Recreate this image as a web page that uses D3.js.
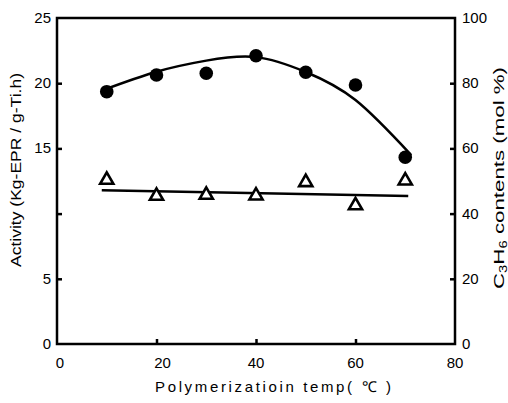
<!DOCTYPE html>
<html><head><meta charset="utf-8">
<script src="https://cdn.jsdelivr.net/npm/d3@7"></script>
<style>body{margin:0;background:#fff}svg{display:block}text{font-family:"Liberation Sans",Arial,sans-serif;fill:#000}</style>
</head><body><svg id="c" width="508" height="403"></svg>
<script>
const temps = [10, 20, 30, 40, 50, 60, 70];
const activity = [19.35, 20.63, 20.76, 22.1, 20.84, 19.86, 14.32];
const c3h6 = [50.3, 45.4, 45.7, 45.5, 49.6, 42.5, 50.1];
const fitActX = [9.3, 20, 30, 40, 50, 60, 71.2];
const fitActY = [19.48, 20.88, 21.73, 22.0, 20.86, 18.71, 14.49];
const fitC3X = [9.0, 70.6];
const fitC3Y = [47.2, 45.4];
const xTicks = [0, 20, 40, 60, 80];
const leftTicks = [0, 5, 10, 15, 20, 25];
const leftLabels = ["0", "5", "", "15", "20", "25"];
const rightTicks = [0, 20, 40, 60, 80, 100];

const svg = d3.select("#c");
const L = 57, R = 455, T = 18, B = 344;
const x = d3.scaleLinear().domain([0, 80]).range([L, R]);
const yL = d3.scaleLinear().domain([0, 25]).range([B, T]);
const yR = d3.scaleLinear().domain([0, 100]).range([B, T]);

svg.append("rect").attr("x", L).attr("y", T).attr("width", R - L).attr("height", B - T)
  .attr("fill", "none").attr("stroke", "#000").attr("stroke-width", 2.5);

const ax = svg.append("g").attr("transform", `translate(0,${B})`)
  .call(d3.axisTop(x).tickValues(xTicks.slice(1, -1)).tickSize(5).tickFormat(""));
const al = svg.append("g").attr("transform", `translate(${L},0)`)
  .call(d3.axisRight(yL).tickValues(leftTicks.slice(1, -1)).tickSize(5).tickFormat(""));
const ar = svg.append("g").attr("transform", `translate(${R},0)`)
  .call(d3.axisLeft(yR).tickValues(rightTicks.slice(1, -1)).tickSize(5).tickFormat(""));
[ax, al, ar].forEach(g => { g.select(".domain").remove(); g.selectAll("line").attr("stroke", "#000").attr("stroke-width", 2.5); });

svg.append("g").selectAll("text").data(xTicks).join("text")
  .attr("x", d => x(d) + (d === 0 ? 3 : d === 20 ? 6 : 0)).attr("y", 368)
  .attr("text-anchor", "middle").attr("font-size", 15).text(d => d);
svg.append("g").selectAll("text").data(leftTicks).join("text")
  .attr("x", 51).attr("y", d => yL(d) + 5).attr("text-anchor", "end").attr("font-size", 15)
  .text((d, i) => leftLabels[i]);
svg.append("g").selectAll("text").data(rightTicks).join("text")
  .attr("x", 462).attr("y", d => yR(d) + 5).attr("text-anchor", "start").attr("font-size", 15)
  .text(d => d);

svg.append("text").attr("transform", "translate(21,170) rotate(-90)")
  .attr("text-anchor", "middle").attr("font-size", 14)
  .attr("textLength", 194).attr("lengthAdjust", "spacingAndGlyphs")
  .text("Activity (Kg-EPR / g-Ti.h)");
const rt = svg.append("text").attr("transform", "translate(504,178) rotate(-90)")
  .attr("text-anchor", "middle").attr("font-size", 15)
  .attr("textLength", 222).attr("lengthAdjust", "spacingAndGlyphs");
rt.append("tspan").text("C");
rt.append("tspan").attr("font-size", 10).attr("dy", 3).text("3");
rt.append("tspan").attr("dy", -3).text("H");
rt.append("tspan").attr("font-size", 10).attr("dy", 3).text("6");
rt.append("tspan").attr("dy", -3).text(" contents (mol %)");
svg.append("text").attr("x", 273).attr("y", 392).attr("text-anchor", "middle")
  .attr("font-size", 15).attr("textLength", 236).attr("lengthAdjust", "spacing")
  .text("Polymerizatioin  temp( \u2103 )");

const line = d3.line().curve(d3.curveNatural);
svg.append("path").attr("d", line(fitActX.map((v, i) => [x(v), yL(fitActY[i])])))
  .attr("fill", "none").attr("stroke", "#000").attr("stroke-width", 2.5);
svg.append("path").attr("d", d3.line()(fitC3X.map((v, i) => [x(v), yR(fitC3Y[i])])))
  .attr("fill", "none").attr("stroke", "#000").attr("stroke-width", 2.5);

svg.append("g").selectAll("circle").data(temps).join("circle")
  .attr("cx", d => x(d)).attr("cy", (d, i) => yL(activity[i])).attr("r", 6.8).attr("fill", "#000");
const tri = d3.symbol().type(d3.symbolTriangle).size(75);
svg.append("g").selectAll("path").data(temps).join("path")
  .attr("d", tri).attr("transform", (d, i) => `translate(${x(d)},${yR(c3h6[i])})`)
  .attr("fill", "#fff").attr("stroke", "#000").attr("stroke-width", 2.6);
</script></body></html>
